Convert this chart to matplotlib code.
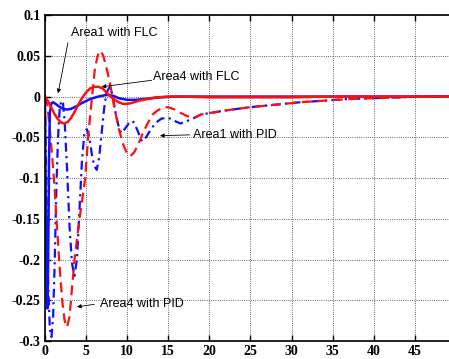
import matplotlib
matplotlib.use('Agg')
import matplotlib.pyplot as plt

# Area1 with PID (blue dash-dot)
t_a1_pid = [0, 0.2, 0.4, 0.6, 0.8, 1.0, 1.2, 1.4, 1.6, 1.8, 2.0, 2.2, 2.4, 2.7, 3.0, 3.3,
            3.6, 3.9, 4.2, 4.5, 4.8, 5.1, 5.4, 5.7, 6.0, 6.3, 6.6, 6.9, 7.2, 7.5, 7.9, 8.2,
            8.6, 9.0, 9.3, 9.7, 10.2, 10.7, 11.2, 11.8, 12.3, 12.9, 13.5, 14.2, 15.0, 15.8,
            16.5, 17.3, 18.2, 19.0, 22, 25, 28, 31, 34, 37, 40, 43, 46, 50]
v_a1_pid = [0, -0.12, -0.23, -0.285, -0.295, -0.27, -0.2, -0.11, -0.05, -0.015, -0.005,
            -0.008, -0.03, -0.09, -0.16, -0.205, -0.22, -0.2, -0.14, -0.08, -0.045, -0.04,
            -0.05, -0.07, -0.085, -0.09, -0.075, -0.045, -0.015, 0.005, 0.012, 0.003,
            -0.02, -0.038, -0.045, -0.04, -0.033, -0.03, -0.04, -0.055, -0.05, -0.04,
            -0.032, -0.027, -0.026, -0.03, -0.033, -0.03, -0.026, -0.022, -0.017, -0.013,
            -0.01, -0.007, -0.005, -0.003, -0.002, -0.001, 0, 0]

# Area4 with PID (red dashed)
t_a4_pid = [0, 0.3, 0.6, 0.9, 1.2, 1.5, 1.8, 2.1, 2.4, 2.7, 3.0, 3.3, 3.6, 3.9, 4.2, 4.5,
            4.9, 5.3, 5.7, 6.1, 6.5, 6.8, 7.1, 7.5, 7.9, 8.5, 9.0, 9.5, 10.0, 10.4, 10.9,
            11.5, 12.0, 12.5, 13.1, 13.7, 14.3, 15.0, 15.8, 16.5, 17.3, 18.2, 19.0, 22, 25,
            28, 31, 34, 37, 40, 43, 46, 50]
v_a4_pid = [0, -0.01, -0.04, -0.075, -0.115, -0.165, -0.21, -0.25, -0.275, -0.283, -0.27,
            -0.235, -0.2, -0.175, -0.15, -0.13, -0.1, -0.045, -0.004, 0.036, 0.053, 0.056,
            0.05, 0.035, 0.017, -0.016, -0.04, -0.058, -0.07, -0.073, -0.068, -0.055,
            -0.043, -0.033, -0.022, -0.017, -0.014, -0.013, -0.016, -0.02, -0.024, -0.026,
            -0.022, -0.017, -0.013, -0.01, -0.007, -0.005, -0.003, -0.002, -0.001, 0, 0]

# Area4 with FLC (red solid)
t_a4_flc = [0, 0.4, 0.8, 1.2, 1.6, 2.0, 2.4, 2.8, 3.2, 3.6, 4.0, 4.5, 5.0, 5.5, 6.0, 6.5,
            7.0, 7.5, 8.0, 8.5, 9.0, 9.5, 10.0, 10.5, 11.5, 12.5, 13.5, 15, 17, 20, 25,
            30, 35, 40, 50]
v_a4_flc = [0, -0.006, -0.014, -0.022, -0.028, -0.032, -0.033, -0.031, -0.026, -0.019,
            -0.011, -0.002, 0.005, 0.01, 0.012, 0.012, 0.01, 0.005, 0.0, -0.004, -0.007,
            -0.009, -0.009, -0.008, -0.005, -0.003, -0.001, 0.0, 0.0, -0.001, -0.001,
            -0.001, 0, 0, 0]

# Area1 with FLC (blue solid)
t_a1_flc = [0, 0.1, 0.2, 0.3, 0.4, 0.5, 0.6, 0.8, 1.0, 1.3, 1.7, 2.2, 2.7, 3.2, 3.8, 4.5,
            5.5, 6.5, 7.5, 8.3, 9.0, 10, 11, 12, 14, 16, 20, 30, 50]
v_a1_flc = [0, -0.12, -0.22, -0.26, -0.2, -0.08, -0.02, -0.008, -0.007, -0.009, -0.012,
            -0.015, -0.016, -0.015, -0.012, -0.008, -0.003, 0.0, 0.002, 0.001, -0.002,
            -0.004, -0.004, -0.003, -0.001, 0, 0, 0, 0]

x_ticks = [0, 5, 10, 15, 20, 25, 30, 35, 40, 45]
y_ticks = [0.1, 0.05, 0, -0.05, -0.1, -0.15, -0.2, -0.25, -0.3]
y_tick_labels = ['0.1', '0.05', '0', '-0.05', '-0.1', '-0.15', '-0.2', '-0.25', '-0.3']

fig = plt.figure(figsize=(4.49, 3.59), dpi=100)
# axes run a bit past the right edge, as in the cropped original
ax = fig.add_axes([0.1, 0.05, 411 / 449, 0.908])

ax.plot(t_a1_pid, v_a1_pid, color='#1010ff', lw=1.6, linestyle=(0, (4, 2, 1, 2)))
ax.plot(t_a4_pid, v_a4_pid, color='#ff1010', lw=1.6, linestyle=(0, (4.5, 2.5)))
ax.plot(t_a1_flc, v_a1_flc, color='#1010ff', lw=1.8)
ax.plot(t_a4_flc, v_a4_flc, color='#ff1010', lw=1.8)

ax.set_xlim(0, 50)
ax.set_ylim(-0.3, 0.1)
ax.set_xticks(x_ticks)
ax.set_yticks(y_ticks)
ax.set_yticklabels(y_tick_labels)
ax.grid(True, color='#333333', linestyle=':', linewidth=0.6)
ax.tick_params(direction='in', top=True, length=4, width=1, pad=3)
for lab in ax.get_xticklabels() + ax.get_yticklabels():
    lab.set_fontfamily('Liberation Serif')
    lab.set_fontweight('bold')
    lab.set_fontsize(10)
for sp in ax.spines.values():
    sp.set_linewidth(1.2)

arrow = dict(arrowstyle='-|>', color='k', lw=0.6, mutation_scale=6, shrinkA=0, shrinkB=0)
tf = dict(fontsize=9, family='Liberation Sans', va='center', ha='left')

ax.text(3.2, 0.078, 'Area1 with FLC', **tf)
ax.annotate('', xy=(1.6, 0.004), xytext=(2.8, 0.066), arrowprops=arrow)

ax.text(13.1, 0.024, 'Area4 with FLC', **tf)
ax.annotate('', xy=(6.9, 0.012), xytext=(13.0, 0.02), arrowprops=arrow)

ax.text(18.0, -0.047, 'Area1 with PID', **tf)
ax.annotate('', xy=(14.0, -0.048), xytext=(17.6, -0.047), arrowprops=arrow)

ax.text(6.7, -0.255, 'Area4 with PID', **tf)
ax.annotate('', xy=(3.9, -0.258), xytext=(6.0, -0.255), arrowprops=arrow)

fig.savefig('out.png', dpi=100)
